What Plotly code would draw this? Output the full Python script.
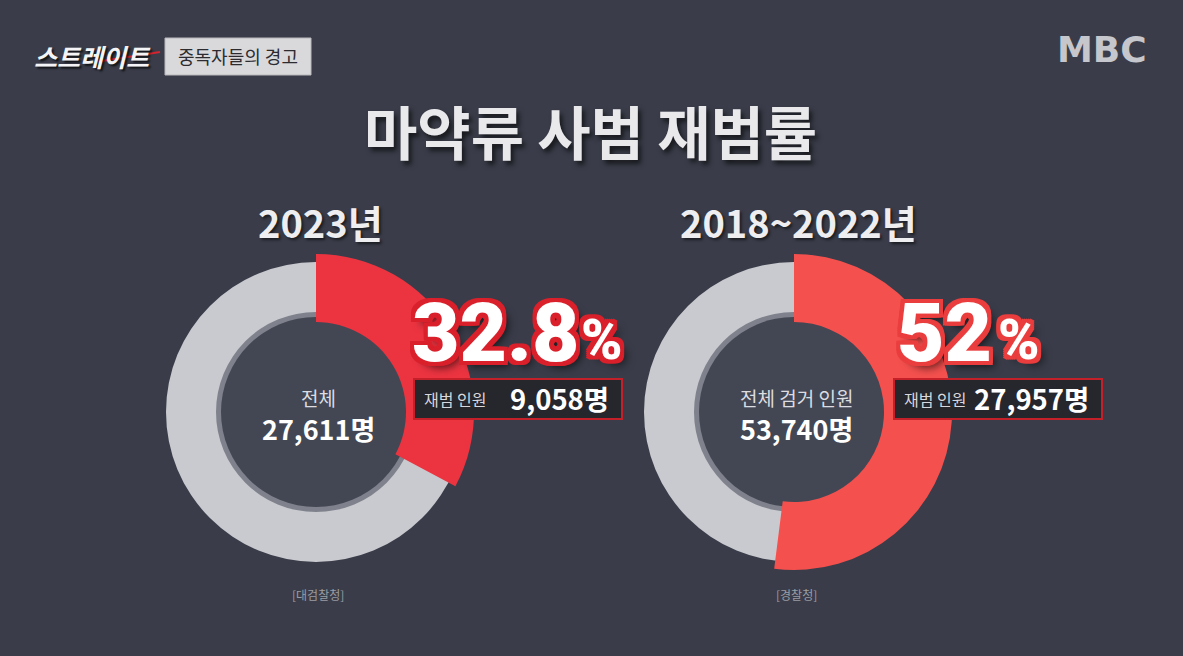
import plotly.graph_objects as go

# ---------------- data ----------------
periods = ["2023년", "2018~2022년"]
rates = [32.8, 52.0]                      # 재범률 (%)
rate_labels = ["32.8", "52"]
totals = ["27,611명", "53,740명"]
center_labels = ["전체", "전체 검거 인원"]
reoffenders = ["9,058명", "27,957명"]
sources = ["[대검찰청]", "[경찰청]"]
title_text = "마약류 사범 재범률"

# ---------------- layout helpers ----------------
W, H = 1183, 656
BG = "#3a3d49"
GREY = "#c9cacf"
REDS = ["#ec3441", "#f4504e"]
FONT = "Noto Sans CJK KR"
NUMFONT = "Roboto"

centers = [(316, 412), (794, 412)]
R_GREY, HOLE_GREY = 150, 100
R_RED, HOLE_RED = 158, 90


def dom(cx, cy, r):
    return dict(x=[(cx - r) / W, (cx + r) / W],
                y=[(H - cy - r) / H, (H - cy + r) / H])


fig = go.Figure()
shapes = []
ann = []

for i, (cx, cy) in enumerate(centers):
    # inner disc + rim
    for rr, col in [(HOLE_GREY + 1, "#7f828c"), (HOLE_GREY - 5, "#434754")]:
        shapes.append(dict(type="circle", xref="paper", yref="paper",
                           x0=(cx - rr) / W, x1=(cx + rr) / W,
                           y0=(H - cy - rr) / H, y1=(H - cy + rr) / H,
                           fillcolor=col, line=dict(width=0), layer="below"))
    # grey ring (whole)
    fig.add_trace(go.Pie(values=[100], labels=["전체"], hole=HOLE_GREY / R_GREY,
                         domain=dom(cx, cy, R_GREY), sort=False,
                         marker=dict(colors=[GREY], line=dict(width=0)),
                         textinfo="none", hoverinfo="skip", showlegend=False))
    # red share ring
    fig.add_trace(go.Pie(values=[rates[i], 100 - rates[i]], labels=["재범", "기타"],
                         hole=HOLE_RED / R_RED, domain=dom(cx, cy, R_RED),
                         sort=False, direction="clockwise", rotation=0,
                         marker=dict(colors=[REDS[i], "rgba(0,0,0,0)"],
                                     line=dict(width=0)),
                         textinfo="none", hoverinfo="skip", showlegend=False))

    # period heading
    ann.append(dict(x=(cx + 4) / W, y=1 - 221 / H, text=f"<b>{periods[i]}</b>",
                    font=dict(family=FONT, size=38, color="#eeeef0",
                              shadow="2px 2px 3px rgba(0,0,0,0.55)")))
    # center texts
    ann.append(dict(x=(cx + 2) / W, y=1 - 397 / H, text=center_labels[i],
                    font=dict(family=FONT, size=19, color="#dcdde0")))
    ann.append(dict(x=(cx + 2) / W, y=1 - 428 / H, text=f"<b>{totals[i]}</b>",
                    font=dict(family=FONT, size=27, color="#ffffff")))
    # source
    ann.append(dict(x=(cx + 2) / W, y=1 - 594 / H, text=sources[i],
                    font=dict(family=FONT, size=12, color="#9a9ca4")))

# big percentages
outline_l = ", ".join(f"{dx}px {dy}px 0 #d9202b" for dx in (-4, -2, 0, 2, 4)
                      for dy in (-4, -2, 0, 2, 4)) + ", 6px 6px 8px rgba(0,0,0,0.6)"
outline_r = outline_l.replace("#d9202b", "#ea3d3d")
big = [(410, 579, outline_l), (895, 996, outline_r)]
for i, (xn, xp, ol) in enumerate(big):
    ann.append(dict(x=xn / W, y=1 - 333 / H, xanchor="left", text=rate_labels[i],
                    font=dict(family=NUMFONT, size=82, weight=900, color="#ffffff",
                              shadow=ol)))
    ann.append(dict(x=xp / W, y=1 - 340 / H, xanchor="left", text="%",
                    font=dict(family=NUMFONT, size=56, weight=900, color="#ffffff",
                              shadow=ol)))

# 재범 인원 boxes
boxes = [(414, 622), (894, 1102)]
for i, (x0, x1) in enumerate(boxes):
    shapes.append(dict(type="rect", xref="paper", yref="paper",
                       x0=x0 / W, x1=x1 / W, y0=1 - 419 / H, y1=1 - 379 / H,
                       fillcolor="#26262d", line=dict(color="#c42029", width=2),
                       layer="above"))
    ann.append(dict(x=(x0 + 8) / W, y=1 - 399 / H, xanchor="left", text="재범 인원",
                    font=dict(family=FONT, size=16, color="#d8d8dc")))
    ann.append(dict(x=(x1 - 11) / W, y=1 - 398 / H, xanchor="right",
                    text=f"<b>{reoffenders[i]}</b>",
                    font=dict(family=FONT, size=27.5, color="#ffffff")))

# title
ann.append(dict(x=590 / W, y=1 - 130 / H, text=f"<b>{title_text}</b>",
                font=dict(family=FONT, size=58, color="#e9e9ec",
                          shadow="3px 4px 5px rgba(0,0,0,0.6)")))

# program logo + segment label + broadcaster logo
ann.append(dict(x=92 / W, y=1 - 56 / H, text="<b><i>스트레이트</i></b>",
                font=dict(family=FONT, size=25, color="#f4f4f6",
                          shadow="2px 2px 2px rgba(0,0,0,0.7)")))
shapes.append(dict(type="line", xref="paper", yref="paper",
                   x0=95 / W, x1=160 / W, y0=1 - 62 / H, y1=1 - 52 / H,
                   line=dict(color="#d62430", width=2), layer="above"))
shapes.append(dict(type="rect", xref="paper", yref="paper",
                   x0=165 / W, x1=311 / W, y0=1 - 75 / H, y1=1 - 38 / H,
                   fillcolor="#d9d9dc", line=dict(color="#b8b8bc", width=1),
                   layer="above"))
ann.append(dict(x=238 / W, y=1 - 56 / H, text="중독자들의 경고",
                font=dict(family=FONT, size=18, color="#2b2b30")))
ann.append(dict(x=1102 / W, y=1 - 49 / H, text="<b>MBC</b>",
                font=dict(family="DejaVu Sans", size=36, color="#c6c7cc")))

for a in ann:
    a.update(xref="paper", yref="paper", showarrow=False)
    a.setdefault("xanchor", "center")
    a.setdefault("yanchor", "middle")

fig.update_layout(width=W, height=H, margin=dict(l=0, r=0, t=0, b=0),
                  paper_bgcolor=BG, plot_bgcolor=BG,
                  shapes=shapes, annotations=ann, showlegend=False)

fig.write_html("out.html")
